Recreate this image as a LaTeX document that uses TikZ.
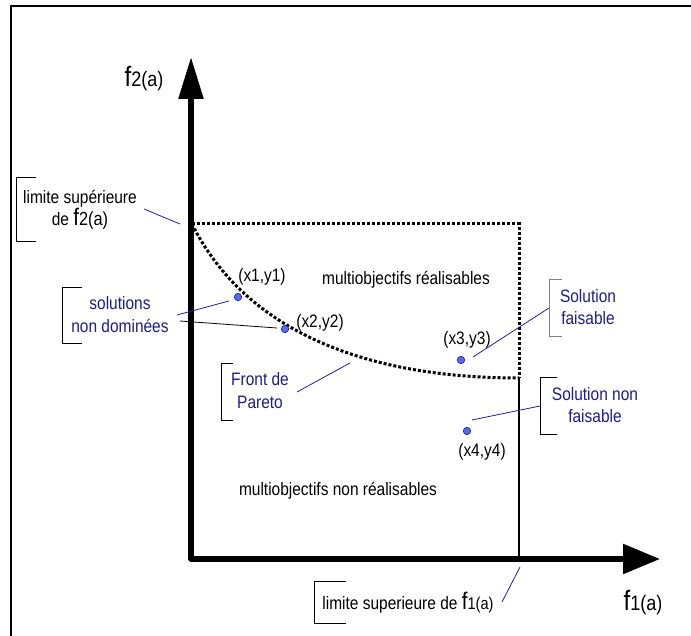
\documentclass[tikz,border=0pt]{standalone}
\usepackage{fontspec}
\setmainfont{Liberation Sans}[FakeStretch=0.86]
\usetikzlibrary{arrows.meta}
\definecolor{navytext}{RGB}{28,28,140}
\definecolor{leadblue}{RGB}{30,30,170}
\definecolor{dotfill}{RGB}{85,105,240}
\definecolor{dotline}{RGB}{35,35,150}
% function name with an enlarged "f"
\newcommand\fname[3]{{\fontsize{#1}{#1}\selectfont f}{\fontsize{#2}{#2}\selectfont #3}}
\begin{document}
\begin{tikzpicture}[x=1pt,y=-1pt,
  txt/.style={font=\fontsize{18}{22.5}\selectfont, inner sep=0pt, align=center},
  calltxt/.style={txt, text=navytext},
  bracket/.style={draw=black, line width=0.8pt},
  leaderline/.style={draw=leadblue, line width=0.8pt},
  sol/.style={circle, fill=dotfill, draw=dotline, line width=0.6pt, minimum size=7.5pt, inner sep=0pt},
  frontier/.style={line width=3pt, dash pattern=on 3pt off 2pt},
  axisline/.style={line width=5.5pt, line join=round}
]
\useasboundingbox (0,0) rectangle (691,636);

% outer frame (left and top edges)
\draw[line width=2pt] (11,640) -- (11,6) -- (695,6);

% axes
\coordinate (O) at (191,559);
\coordinate (ytip) at (191,57);
\coordinate (xtip) at (660,559);
\draw[axisline, {Triangle[length=42pt,width=24pt]}-{Triangle[length=37pt,width=29pt]}] (ytip) -- (O) -- (xtip);
\node[txt] (f2lab) at (144,79) {\fname{28}{21}{2(a)}};
\node[txt] (f1lab) at (643,603) {\fname{28}{21}{1(a)}};

% feasible region: dotted bounds and Pareto front
\coordinate (ytop) at (192,224);
\coordinate (corner) at (519,224);
\coordinate (fend) at (519,378);
\coordinate (xlim) at (519,556);
\draw[frontier] (ytop) -- (corner) -- (fend);
\draw[frontier] (ytop) .. controls (247,334) and (370,378) .. (fend);
\draw[line width=1.2pt] (fend) -- (xlim);

% solutions
\node[sol] (p1) at (238,297) {};
\node[sol] (p2) at (285,329) {};
\node[sol] (p3) at (461,360) {};
\node[sol] (p4) at (467,431) {};
\node[txt] (l1) at (262,277) {(x1,y1)};
\node[txt] (l2) at (320,323) {(x2,y2)};
\node[txt] (l3) at (467,340) {(x3,y3)};
\node[txt] (l4) at (482,452) {(x4,y4)};

% region labels
\node[txt] (feas) at (406,280) {multiobjectifs réalisables};
\node[txt] (infeas) at (338,491) {multiobjectifs non réalisables};

% callout: upper bound of f2
\draw[bracket] (36,177) -- (16,177) -- (16,241) -- (36,241);
\node[calltxt, text=black] (cf2) at (80,210) {limite supérieure\\de \fname{24}{19}{2(a)}};
\coordinate (cf2a) at (144,209);
\coordinate (cf2b) at (180,224);
\draw[leaderline] (cf2a) -- (cf2b);

% callout: non-dominated solutions
\draw[bracket] (82,287) -- (62,287) -- (62,343) -- (82,343);
\node[calltxt] (cnd) at (120,314.5) {solutions\\non dominées};
\coordinate (cnda) at (177,315);
\coordinate (cndb) at (229,301);
\coordinate (cndc) at (180,321);
\coordinate (cndd) at (277,328);
\draw[leaderline] (cnda) -- (cndb);
\draw[line width=0.8pt] (cndc) -- (cndd);

% callout: Pareto front
\draw[bracket] (233,363) -- (221,363) -- (221,420) -- (233,420);
\node[calltxt] (cpf) at (260,390.5) {Front de\\Pareto};
\coordinate (cpfa) at (297,392);
\coordinate (cpfb) at (350,363);
\draw[leaderline] (cpfa) -- (cpfb);

% callout: feasible solution
\draw[bracket, draw=gray] (562,279) -- (549,279) -- (549,336) -- (562,336);
\node[calltxt] (cfs) at (588,307) {Solution\\faisable};
\coordinate (cfsa) at (473,357);
\coordinate (cfsb) at (549,308);
\draw[leaderline] (cfsa) -- (cfsb);

% callout: infeasible solution
\draw[bracket] (557,377) -- (540,377) -- (540,434) -- (557,434);
\node[calltxt] (cns) at (595,405) {Solution non\\faisable};
\coordinate (cnsa) at (472,420);
\coordinate (cnsb) at (540,406);
\draw[leaderline] (cnsa) -- (cnsb);

% callout: upper bound of f1
\draw[bracket] (346,581) -- (314,581) -- (314,623) -- (346,623);
\node[txt] (cf1) at (408,603) {limite superieure de \fname{24}{17}{1(a)}};
\coordinate (cf1a) at (502,602);
\coordinate (cf1b) at (520,567);
\draw[leaderline] (cf1a) -- (cf1b);
\end{tikzpicture}
\end{document}
